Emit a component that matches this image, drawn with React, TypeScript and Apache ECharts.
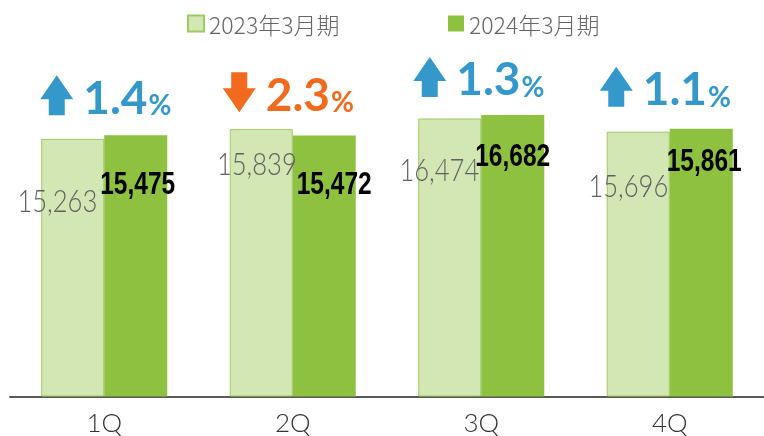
import React, { useEffect, useRef } from "react";
import * as echarts from "echarts";

const categories = ["1Q", "2Q", "3Q", "4Q"];
const seriesNames = ["2023年3月期", "2024年3月期"];
const fy2023 = [15263, 15839, 16474, 15696];
const fy2024 = [15475, 15472, 16682, 15861];
const changePct = [1.4, -2.3, 1.3, 1.1];

// layout tweaks (pixels), not data
const BAR_W = 63;
const lightLabelPos = [[56, 60], [67, 33], [61, 50], [61.5, 53]];
const darkLabelPos = [[-4, 48], [4, 48], [-6, 40], [-3, 32]];
const annoDx = [-64, -70, -68, -70];
const annoDy = [-20, -17, -18, -22];

const BLUE = "#3598ca";
const ORANGE = "#f26a1e";

export default function App() {
  const ref = useRef<HTMLDivElement>(null);
  useEffect(() => {
    if (!ref.current) return;
    const chart = echarts.init(ref.current, null, { renderer: "svg" });
    const fmt = (v: number) => v.toLocaleString("en-US");
    const overlayData = categories.map((_, i) => [i, fy2023[i], fy2024[i], changePct[i]]);
    const legendBase = {
      top: 12,
      padding: 0,
      icon: "rect",
      itemWidth: 16,
      itemHeight: 16,
      itemGap: 0,
      textStyle: { fontSize: 23, color: "#666", fontFamily: "Noto Sans CJK JP", fontWeight: 300 },
      selectedMode: false,
    };
    chart.setOption({
      animation: false,
      grid: { left: 10, right: 0, top: 59, bottom: 39.5 },
      legend: [
        { ...legendBase, data: [seriesNames[0]], left: 187 },
        { ...legendBase, data: [seriesNames[1]], left: 448 },
      ],
      xAxis: {
        type: "category",
        data: categories,
        axisLine: { lineStyle: { color: "#595959", width: 2 } },
        axisTick: { show: false },
        axisLabel: {
          fontSize: 26,
          lineHeight: 24,
          color: "#333",
          fontFamily: "Lato",
          fontWeight: 300,
          margin: 13,
        },
      },
      yAxis: { type: "value", min: 0, max: 20000, show: false, splitLine: { show: false } },
      series: [
        {
          name: seriesNames[0],
          type: "bar",
          barWidth: BAR_W,
          barGap: "0%",
          itemStyle: { color: "#d2e7b4", borderColor: "#9dcb5f", borderWidth: 1 },
          data: fy2023,
        },
        {
          name: seriesNames[1],
          type: "bar",
          barWidth: BAR_W,
          barGap: "0%",
          itemStyle: { color: "#8dc13f" },
          data: fy2024,
        },
        {
          name: "overlay",
          type: "custom",
          silent: true,
          z: 10,
          encode: { x: 0, y: [1, 2] },
          data: overlayData,
          renderItem: (params: any, api: any) => {
            const i = api.value(0);
            const v1 = api.value(1);
            const v2 = api.value(2);
            const ch = api.value(3);
            const p1 = api.coord([i, v1]);
            const p2 = api.coord([i, v2]);
            const cx = p1[0];
            const topY = Math.min(p1[1], p2[1]);
            const up = ch >= 0;
            const color = up ? BLUE : ORANGE;
            const x0 = cx + annoDx[i];
            const yb = topY + annoDy[i];
            const w = 33;
            const h = 40;
            const head = 24;
            const s0 = 8.5;
            const s1 = 24.5;
            const pts = up
              ? [
                  [x0 + w / 2, yb - h],
                  [x0 + w, yb - h + head],
                  [x0 + s1, yb - h + head],
                  [x0 + s1, yb],
                  [x0 + s0, yb],
                  [x0 + s0, yb - h + head],
                  [x0, yb - h + head],
                ]
              : [
                  [x0 + s0, yb - h],
                  [x0 + s1, yb - h],
                  [x0 + s1, yb - head],
                  [x0 + w, yb - head],
                  [x0 + w / 2, yb],
                  [x0, yb - head],
                  [x0 + s0, yb - head],
                ];
            return {
              type: "group",
              children: [
                { type: "polygon", shape: { points: pts }, style: { fill: color } },
                {
                  type: "text",
                  x: x0 + w + 10,
                  y: yb + 4,
                  style: {
                    text: `{n|${Math.abs(ch).toFixed(1)}}{p|%}`,
                    verticalAlign: "bottom",
                    align: "left",
                    fill: color,
                    rich: {
                      n: { fontSize: 46, fontWeight: "bold", fontFamily: "Lato", fill: color, verticalAlign: "bottom" },
                      p: { fontSize: 28, fontWeight: "bold", fontFamily: "Lato", fill: color, verticalAlign: "bottom", padding: [0, 0, 1, 1] },
                    },
                  },
                },
                {
                  type: "text",
                  x: cx - BAR_W + lightLabelPos[i][0],
                  y: p1[1] + lightLabelPos[i][1],
                  scaleX: 0.8,
                  style: {
                    x: 0,
                    y: 0,
                    text: fmt(v1),
                    align: "right",
                    verticalAlign: "middle",
                    fontSize: 32,
                    fontWeight: 300,
                    fontFamily: "Lato",
                    fill: "#606060",
                  },
                },
                {
                  type: "text",
                  x: cx + darkLabelPos[i][0],
                  y: p2[1] + darkLabelPos[i][1],
                  scaleX: 0.79,
                  style: {
                    x: 0,
                    y: 0,
                    text: fmt(v2),
                    align: "left",
                    verticalAlign: "middle",
                    fontSize: 31,
                    fontWeight: "bold",
                    fontFamily: "Liberation Sans",
                    fill: "#000",
                  },
                },
              ],
            };
          },
        },
      ],
    });
    return () => chart.dispose();
  }, []);
  return <div ref={ref} style={{ position: "fixed", left: 0, top: 0, width: 764, height: 436 }} />;
}
